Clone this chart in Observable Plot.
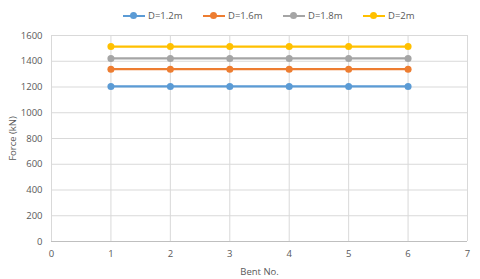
<!DOCTYPE html>
<html><head><meta charset="utf-8">
<script src="https://cdn.jsdelivr.net/npm/d3@7"></script>
<script src="https://cdn.jsdelivr.net/npm/@observablehq/plot@0.6"></script>
<style>
body{margin:0;background:#fff;font-family:"Open Sans","DejaVu Sans",sans-serif;}
#legend{height:28px;position:relative;font-size:9.5px;color:#595959;}
.item{position:absolute;top:9px;display:flex;align-items:center;white-space:nowrap;}
.sw{position:relative;width:22px;height:10px;margin-right:3px;}
.sw .ln{position:absolute;left:0;top:4px;width:22px;height:2px;}
.sw .dt{position:absolute;left:7px;top:1.5px;width:7px;height:7px;border-radius:50%;}
</style></head><body>
<div id="legend"></div>
<div id="chart"></div>
<script>
const bents = [1, 2, 3, 4, 5, 6];
const seriesNames = ["D=1.2m", "D=1.6m", "D=1.8m", "D=2m"];
const seriesValues = [
  [1204, 1204, 1204, 1204, 1204, 1204],
  [1338, 1338, 1338, 1338, 1338, 1338],
  [1422, 1422, 1422, 1422, 1422, 1422],
  [1514, 1514, 1514, 1514, 1514, 1514]
];
const colors = ["#5b9bd5", "#ed7d31", "#a5a5a5", "#ffc000"];
const xTicks = [0, 1, 2, 3, 4, 5, 6, 7];
const yTicks = [0, 200, 400, 600, 800, 1000, 1200, 1400, 1600];

const data = [];
seriesNames.forEach((s, i) => bents.forEach((b, j) => data.push({series: s, bent: b, force: seriesValues[i][j]})));

const legendX = [123, 203, 283, 363];
const leg = document.getElementById("legend");
seriesNames.forEach((s, i) => {
  const d = document.createElement("div");
  d.className = "item";
  d.style.left = legendX[i] + "px";
  d.innerHTML = `<div class="sw"><div class="ln" style="background:${colors[i]}"></div><div class="dt" style="background:${colors[i]}"></div></div><span>${s}</span>`;
  leg.appendChild(d);
});

const chart = Plot.plot({
  width: 480,
  height: 251,
  marginLeft: 51,
  marginRight: 13,
  marginTop: 7,
  marginBottom: 38,
  style: {fontFamily: "'Open Sans','DejaVu Sans',sans-serif", fontSize: "9.5px", color: "#595959", background: "#fff"},
  x: {domain: [0, 7], ticks: xTicks, tickFormat: d3.format("d"), tickSize: 0, tickPadding: 9, label: "Bent No.", labelAnchor: "center", labelOffset: 33, labelArrow: "none"},
  y: {domain: [0, 1600], ticks: yTicks, tickFormat: d3.format("d"), tickSize: 0, tickPadding: 9, label: "Force (kN)", labelAnchor: "center", labelOffset: 42, labelArrow: "none"},
  color: {domain: seriesNames, range: colors},
  marks: [
    Plot.gridX(xTicks, {stroke: "#d9d9d9", strokeOpacity: 1, strokeWidth: 1}),
    Plot.gridY(yTicks, {stroke: "#d9d9d9", strokeOpacity: 1, strokeWidth: 1}),
    Plot.ruleY([0], {stroke: "#bfbfbf", strokeWidth: 1}),
    Plot.line(data, {x: "bent", y: "force", z: "series", stroke: "series", strokeWidth: 2.25}),
    Plot.dot(data, {x: "bent", y: "force", fill: "series", r: 3.5, stroke: "none"})
  ]
});
document.getElementById("chart").appendChild(chart);
</script>
</body></html>
